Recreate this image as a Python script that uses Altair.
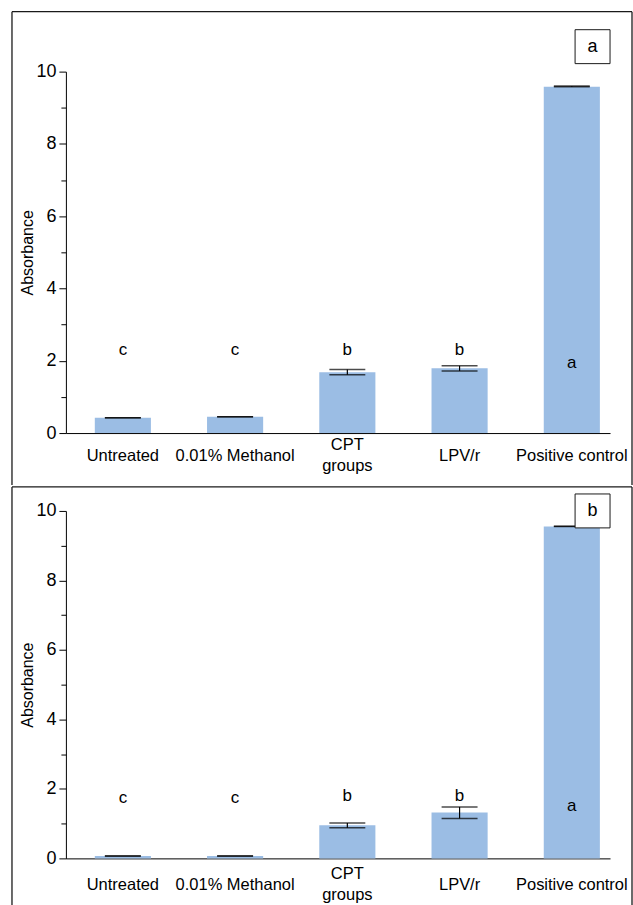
import altair as alt
import pandas as pd

# Shared categories and their displayed (possibly two-line) labels
categories = ["Untreated", "0.01% Methanol", "CPT groups", "LPV/r", "Positive control"]
display_labels = ["Untreated", "0.01% Methanol", "CPT\ngroups", "LPV/r", "Positive control"]

# Panel a: mean absorbance and error range
a_means = [0.42, 0.45, 1.68, 1.79, 9.58]
a_low = [0.42, 0.45, 1.61, 1.72, 9.58]
a_high = [0.42, 0.45, 1.76, 1.86, 9.60]
a_letters = ["c", "c", "b", "b", "a"]
a_letter_y = [2.3, 2.3, 2.3, 2.3, 1.95]

# Panel b: mean absorbance and error range
b_means = [0.07, 0.07, 0.95, 1.32, 9.55]
b_low = [0.07, 0.07, 0.88, 1.15, 9.55]
b_high = [0.07, 0.07, 1.02, 1.48, 9.56]
b_letters = ["c", "c", "b", "b", "a"]
b_letter_y = [1.75, 1.75, 1.8, 1.8, 1.5]

FONT = "Liberation Sans"
BAR = "#9bbde4"
LINE = "#1a1a1a"
W = 545


def frame_rules(one, top, bottom):
    """Top, left and right edges of the panel border."""
    edges = [
        dict(x=alt.value(-54), x2=alt.value(567), y=alt.value(top), y2=alt.value(top)),
        dict(x=alt.value(-54), x2=alt.value(-54), y=alt.value(top), y2=alt.value(bottom)),
        dict(x=alt.value(567), x2=alt.value(567), y=alt.value(top), y2=alt.value(bottom)),
    ]
    return [one.mark_rule(color=LINE, strokeWidth=1.3).encode(**e) for e in edges]


def panel(means, low, high, letters, letter_y, tag, height, frame_top, frame_bottom, box_top, label_gap):
    df = pd.DataFrame({
        "cat": categories,
        "label": display_labels,
        "mean": means,
        "low": low,
        "high": high,
        "letter": letters,
        "ly": letter_y,
    })
    x = alt.X(
        "cat:N",
        sort=categories,
        scale=alt.Scale(paddingInner=0.5, paddingOuter=0.174, align=0.74),
        axis=alt.Axis(labels=False, ticks=False, title=None, grid=False, domainColor="#000", domainWidth=1),
    )
    yscale = alt.Scale(domain=[0, 10], nice=False)
    yaxis = alt.Axis(
        values=list(range(11)),
        labelExpr="datum.value % 2 == 0 ? datum.label : ''",
        tickSize={"condition": {"test": "datum.value % 2 == 0", "value": 7}, "value": 5},
        tickColor="#000",
        domainColor="#000",
        grid=False,
        title="Absorbance",
        titleFont=FONT,
        titleFontSize=16,
        titleFontWeight="normal",
        titleColor="#000",
        titlePadding=0,
        labelFont=FONT,
        labelFontSize=18,
        labelColor="#000",
        labelPadding=3,
    )
    base = alt.Chart(df)

    bars = base.mark_bar(color=BAR).encode(
        x=x, y=alt.Y("mean:Q", scale=yscale, axis=yaxis)
    )
    whisker = base.mark_rule(color="#000", strokeWidth=1.2).encode(
        x=x, y=alt.Y("low:Q", scale=yscale, axis=yaxis), y2="high:Q"
    )
    cap_hi = base.mark_tick(color="#000", thickness=1.5, size=36).encode(
        x=x, y=alt.Y("high:Q", scale=yscale, axis=yaxis)
    )
    cap_lo = base.mark_tick(color="#000", thickness=1.5, size=36).encode(
        x=x, y=alt.Y("low:Q", scale=yscale, axis=yaxis)
    )
    letter_text = base.mark_text(font=FONT, fontSize=17, color="#000", baseline="middle").encode(
        x=x, y=alt.Y("ly:Q", scale=yscale, axis=yaxis), text="letter:N"
    )
    # category labels: one-line labels centred below the axis, two-line labels raised a little
    label_style = dict(font=FONT, fontSize=16.5, color="#000", baseline="middle", lineBreak="\n", lineHeight=21)
    xlabels_single = base.transform_filter("indexof(datum.label, '\\n') < 0").mark_text(**label_style).encode(
        x=x, y=alt.value(height + label_gap), text="label:N"
    )
    xlabels_double = base.transform_filter("indexof(datum.label, '\\n') >= 0").mark_text(**label_style).encode(
        x=x, y=alt.value(height + label_gap - 11), text="label:N"
    )

    one = alt.Chart(pd.DataFrame({"tag": [tag]}))
    box = one.mark_rect(fill="white", stroke=LINE, strokeWidth=1).encode(
        x=alt.value(510), x2=alt.value(545), y=alt.value(box_top), y2=alt.value(box_top + 34)
    )
    box_text = one.mark_text(font=FONT, fontSize=18, color="#000", baseline="middle").encode(
        x=alt.value(527.5), y=alt.value(box_top + 17), text="tag:N"
    )
    layers = [bars, whisker, cap_hi, cap_lo, letter_text, xlabels_single, xlabels_double]
    layers += frame_rules(one, frame_top, frame_bottom) + [box, box_text]
    return alt.layer(*layers).properties(width=W, height=height)


top = panel(a_means, a_low, a_high, a_letters, a_letter_y, "a", 362, -60, 414, -42, 23)
bottom = panel(b_means, b_low, b_high, b_letters, b_letter_y, "b", 348, -24, 420, -17, 27)

chart = (
    alt.vconcat(top, bottom, spacing=0)
    .properties(padding={"left": 11, "top": 10, "right": 0, "bottom": 0})
    .configure(background="white")
    .configure_view(stroke="transparent", strokeWidth=0)
    .configure_axis(grid=False)
)

chart.save("out.html", embed_options={"renderer": "svg", "actions": False})
